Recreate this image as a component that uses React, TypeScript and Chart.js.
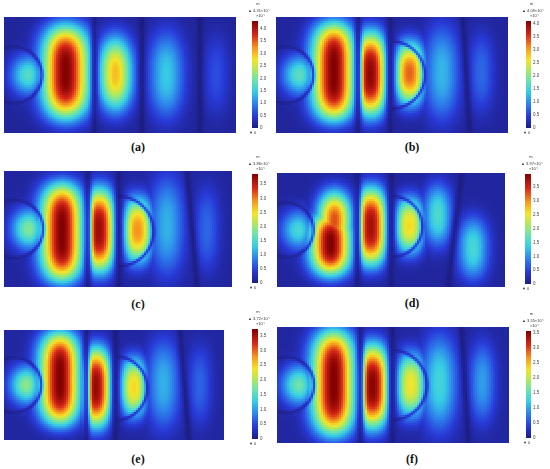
import React, { useEffect, useRef } from 'react';
import { Chart, registerables } from 'chart.js';

Chart.register(...registerables);

// ---------------- data (values in 1e-7 m, positions as fractions of each panel) ----------------
const panelLabels = ['(a)', '(b)', '(c)', '(d)', '(e)', '(f)'];
const maxValues = [4.31, 4.09, 3.86, 3.97, 3.72, 3.55];
const maxLabels = ['4.31', '4.09', '3.86', '3.97', '3.72', '3.55'];
const minLabel = '0';
const tickStep = 0.5;
const backgroundLevel = [0.12, 0.12, 0.12, 0.12, 0.12, 0.12];

// displacement lobes
const lobeU = [
  [0.105, 0.265, 0.48, 0.70, 0.915],
  [0.102, 0.25, 0.405, 0.575, 0.715, 0.885],
  [0.11, 0.255, 0.415, 0.585, 0.715, 0.89],
  [0.095, 0.235, 0.252, 0.41, 0.58, 0.705, 0.86],
  [0.103, 0.255, 0.415, 0.59, 0.725, 0.89],
  [0.096, 0.245, 0.41, 0.576, 0.70, 0.885],
];
const lobeV = [
  [0.50, 0.475, 0.49, 0.50, 0.50],
  [0.50, 0.47, 0.49, 0.485, 0.48, 0.48],
  [0.50, 0.53, 0.51, 0.51, 0.47, 0.50],
  [0.50, 0.62, 0.42, 0.47, 0.46, 0.37, 0.66],
  [0.50, 0.44, 0.52, 0.52, 0.49, 0.50],
  [0.50, 0.48, 0.51, 0.50, 0.48, 0.48],
];
const lobePeak = [
  [1.75, 4.31, 3.0, 1.45, 0.6],
  [1.7, 4.09, 4.0, 3.3, 1.25, 0.75],
  [1.85, 3.86, 3.7, 2.9, 1.15, 0.7],
  [1.5, 3.97, 3.3, 3.75, 2.6, 1.55, 1.5],
  [1.85, 3.72, 3.6, 2.45, 1.1, 0.65],
  [1.6, 3.55, 3.5, 2.25, 1.3, 0.95],
];
const lobeSxLeft = [
  [0.08, 0.10, 0.075, 0.08, 0.06],
  [0.08, 0.095, 0.06, 0.06, 0.08, 0.06],
  [0.08, 0.095, 0.06, 0.06, 0.08, 0.06],
  [0.08, 0.09, 0.075, 0.06, 0.06, 0.065, 0.07],
  [0.08, 0.095, 0.06, 0.06, 0.08, 0.06],
  [0.08, 0.095, 0.06, 0.06, 0.08, 0.06],
];
const lobeSxRight = [
  [0.06, 0.105, 0.075, 0.08, 0.06],
  [0.06, 0.09, 0.07, 0.065, 0.08, 0.06],
  [0.06, 0.09, 0.07, 0.065, 0.08, 0.06],
  [0.06, 0.09, 0.075, 0.07, 0.065, 0.065, 0.07],
  [0.06, 0.09, 0.07, 0.06, 0.08, 0.06],
  [0.06, 0.09, 0.07, 0.065, 0.08, 0.06],
];
const lobeSy = [
  [0.18, 0.40, 0.32, 0.38, 0.36],
  [0.18, 0.42, 0.36, 0.27, 0.42, 0.36],
  [0.18, 0.42, 0.36, 0.28, 0.44, 0.38],
  [0.18, 0.28, 0.26, 0.34, 0.25, 0.28, 0.28],
  [0.18, 0.42, 0.36, 0.27, 0.42, 0.38],
  [0.18, 0.45, 0.36, 0.28, 0.42, 0.36],
];
const lobeNx = [
  [2, 2, 2, 2, 2],
  [2, 2, 2.5, 2.5, 2, 2],
  [2, 2, 2.5, 2.5, 2, 2],
  [2, 2, 2, 2.5, 2.5, 2, 2],
  [2, 2, 2.5, 2.5, 2, 2],
  [2, 2, 2.5, 2.5, 2, 2],
];
const lobeNy = [
  [2, 3.5, 2.5, 2.5, 2.5],
  [2, 4, 3, 2.5, 2.5, 2.5],
  [2, 4, 3, 2.5, 2.5, 2.5],
  [2, 3, 2.5, 3, 2.5, 2.5, 2.5],
  [2, 4, 3, 2.5, 2.5, 2.5],
  [2, 4, 3, 2.5, 2.5, 2.5],
];

// straight nodal lines (u at mid-height, and drift per unit height)
const nodeU = [
  [0.39, 0.595, 0.845],
  [0.354, 0.492, 0.82],
  [0.368, 0.503, 0.825],
  [0.353, 0.50, 0.78],
  [0.374, 0.506, 0.82],
  [0.36, 0.496, 0.81],
];
const nodeTilt = [
  [0, 0, 0],
  [0, 0, 0.03],
  [0, 0, 0.045],
  [0, 0, -0.06],
  [0, 0, 0.04],
  [0, 0, 0.03],
];

// curved nodal arcs (centre u, centre v, radius as fraction of panel height)
const arcU = [[0.042], [0.04, 0.497], [0.045, 0.503], [0.04, 0.505], [0.045, 0.506], [0.04, 0.496]];
const arcV = [[0.5], [0.5, 0.5], [0.5, 0.52], [0.5, 0.47], [0.5, 0.53], [0.5, 0.5]];
const arcR = [[0.243], [0.243, 0.29], [0.25, 0.30], [0.24, 0.265], [0.25, 0.29], [0.24, 0.30]];
const arcRightOnly = [[false], [false, true], [false, true], [false, true], [false, true], [false, true]];

// ---------------- layout & style ----------------
const PANEL_BOXES = [
  { x: 4, y: 17, w: 232, h: 116 },
  { x: 276, y: 17, w: 232, h: 116 },
  { x: 4, y: 171, w: 228, h: 116 },
  { x: 277, y: 173, w: 228, h: 114 },
  { x: 4, y: 330, w: 220, h: 110 },
  { x: 277, y: 327, w: 232, h: 116 },
];
const BAR_BOXES = [
  { x: 252, y: 21, w: 6, h: 107 },
  { x: 526, y: 21, w: 5, h: 107 },
  { x: 252, y: 174, w: 6, h: 109 },
  { x: 525, y: 174, w: 6, h: 110 },
  { x: 252, y: 329, w: 6, h: 110 },
  { x: 526, y: 331, w: 5, h: 107 },
];
const LABEL_POS = [
  { x: 138, y: 147 },
  { x: 412, y: 147 },
  { x: 138, y: 304 },
  { x: 412, y: 303 },
  { x: 138, y: 459 },
  { x: 412, y: 459 },
];

const CMAP_POS = [0, 0.03, 0.11, 0.22, 0.34, 0.45, 0.55, 0.64, 0.75, 0.87, 1];
const CMAP_RGB = [
  [28, 28, 125], [33, 38, 158], [40, 58, 215], [45, 125, 235], [55, 205, 230],
  [110, 228, 170], [180, 232, 90], [245, 228, 40], [245, 150, 30], [215, 40, 25], [128, 0, 0],
];
const SANS = '"Liberation Sans", Arial, sans-serif';
const NODE_DEPTH = 0.85;
const NODE_WIDTH = 3.5;
const ARC_DEPTH = 0.7;
const ARC_WIDTH = 1.8;
const CELL = 2; // pixels per heat-map cell (panel sizes are multiples of it)

function colorAt(t: number): string {
  const x = Math.max(0, Math.min(1, t));
  for (let k = 1; k < CMAP_POS.length; k++) {
    if (x <= CMAP_POS[k]) {
      const f = (x - CMAP_POS[k - 1]) / (CMAP_POS[k] - CMAP_POS[k - 1]);
      const a = CMAP_RGB[k - 1];
      const b = CMAP_RGB[k];
      return `rgb(${Math.round(a[0] + (b[0] - a[0]) * f)},${Math.round(a[1] + (b[1] - a[1]) * f)},${Math.round(a[2] + (b[2] - a[2]) * f)})`;
    }
  }
  const c = CMAP_RGB[CMAP_RGB.length - 1];
  return `rgb(${c[0]},${c[1]},${c[2]})`;
}

function fieldValue(p: number, u: number, v: number, W: number, H: number): number {
  let m = 0;
  for (let i = 0; i < lobeU[p].length; i++) {
    const du = u - lobeU[p][i];
    const sx = du < 0 ? lobeSxLeft[p][i] : lobeSxRight[p][i];
    const dv = v - lobeV[p][i];
    const e = Math.pow(Math.abs(du) / sx, lobeNx[p][i]) + Math.pow(Math.abs(dv) / lobeSy[p][i], lobeNy[p][i]);
    m = Math.max(m, lobePeak[p][i] * Math.exp(-e));
  }
  let val = Math.hypot(backgroundLevel[p], m);
  for (let j = 0; j < nodeU[p].length; j++) {
    const x0 = nodeU[p][j] + nodeTilt[p][j] * (v - 0.5);
    const d = (u - x0) * W;
    val *= 1 - NODE_DEPTH * Math.exp(-(d * d) / (NODE_WIDTH * NODE_WIDTH));
  }
  for (let j = 0; j < arcU[p].length; j++) {
    if (arcRightOnly[p][j] && u < arcU[p][j]) continue;
    const dx = (u - arcU[p][j]) * W;
    const dy = (v - arcV[p][j]) * H;
    const d = Math.hypot(dx, dy) - arcR[p][j] * H;
    val *= 1 - ARC_DEPTH * Math.exp(-(d * d) / (ARC_WIDTH * ARC_WIDTH));
  }
  return val;
}

function HeatPanel({ p }: { p: number }) {
  const ref = useRef<HTMLCanvasElement | null>(null);
  const box = PANEL_BOXES[p];
  const W = box.w;
  const H = box.h;
  useEffect(() => {
    const nx = W / CELL;
    const ny = H / CELL;
    const pts: { x: number; y: number }[] = [];
    const cols: string[] = [];
    for (let j = 0; j < ny; j++) {
      for (let i = 0; i < nx; i++) {
        const u = (i + 0.5) / nx;
        const v = (j + 0.5) / ny;
        pts.push({ x: u, y: v });
        cols.push(colorAt(fieldValue(p, u, v, W, H) / maxValues[p]));
      }
    }
    // 'rect' point side = sqrt(2) * radius -> one cell plus a hair of overlap
    const r = (CELL / 2) * Math.SQRT2 * 1.02;
    const chart = new Chart(ref.current as HTMLCanvasElement, {
      type: 'scatter',
      data: {
        datasets: [
          {
            data: pts,
            backgroundColor: cols,
            pointBackgroundColor: cols,
            borderWidth: 0,
            pointBorderWidth: 0,
            pointStyle: 'rect',
            pointRadius: r,
            pointHoverRadius: r,
            clip: 0,
          } as any,
        ],
      },
      options: {
        animation: false,
        responsive: false,
        devicePixelRatio: 1,
        events: [],
        parsing: false,
        normalized: true,
        layout: { padding: 0, autoPadding: false },
        elements: { point: { borderWidth: 0 } },
        plugins: { legend: { display: false }, tooltip: { enabled: false } },
        scales: {
          x: { type: 'linear', min: 0, max: 1, display: false },
          y: { type: 'linear', min: 0, max: 1, reverse: true, display: false },
        },
      } as any,
    });
    return () => chart.destroy();
  }, [p]);
  return (
    <canvas
      ref={ref}
      width={W}
      height={H}
      style={{ position: 'absolute', left: box.x, top: box.y, width: W, height: H }}
    />
  );
}

const PAD_L = 8;
const PAD_T = 22;
const PAD_B = 10;
const AXIS_W = 16;

function ColorBar({ p }: { p: number }) {
  const ref = useRef<HTMLCanvasElement | null>(null);
  const box = BAR_BOXES[p];
  const W = box.w + PAD_L + AXIS_W;
  const H = box.h + PAD_T + PAD_B;
  useEffect(() => {
    const labelPlugin = {
      id: 'barLabels',
      afterDraw(chart: any) {
        const c = chart.ctx;
        const a = chart.chartArea;
        c.save();
        c.fillStyle = '#333';
        c.textBaseline = 'middle';
        c.font = `4px ${SANS}`;
        c.textAlign = 'center';
        c.fillText('m', (a.left + a.right) / 2 + 3, a.top - 17);
        c.textAlign = 'left';
        c.fillText('\u25B2 ' + maxLabels[p] + '\u00D710\u207B\u2077', a.left - 4, a.top - 10.5);
        c.fillText('\u00D710\u207B\u2077', a.left + 4, a.top - 5.5);
        c.fillText('\u25BC ' + minLabel, a.left - 3, a.bottom + 5);
        c.restore();
      },
    };
    const chart = new Chart(ref.current as HTMLCanvasElement, {
      type: 'bar',
      data: {
        labels: [''],
        datasets: [
          {
            data: [maxValues[p]],
            borderWidth: 0,
            barPercentage: 1,
            categoryPercentage: 1,
            backgroundColor: (ctx: any) => {
              const area = ctx.chart.chartArea;
              if (!area) return 'rgb(28,28,125)';
              const g = ctx.chart.ctx.createLinearGradient(0, area.bottom, 0, area.top);
              CMAP_POS.forEach((pos, k) => {
                const c = CMAP_RGB[k];
                g.addColorStop(pos, `rgb(${c[0]},${c[1]},${c[2]})`);
              });
              return g;
            },
          },
        ],
      },
      options: {
        animation: false,
        responsive: false,
        events: [],
        layout: { padding: { top: PAD_T, bottom: PAD_B, left: PAD_L, right: 0 } },
        plugins: { legend: { display: false }, tooltip: { enabled: false } },
        scales: {
          x: { display: false },
          y: {
            position: 'right',
            min: 0,
            max: maxValues[p],
            grid: { display: false, drawTicks: false },
            border: { display: false },
            ticks: {
              stepSize: tickStep,
              includeBounds: false,
              padding: 2,
              color: '#444',
              font: { size: 4.5, family: SANS },
            },
            afterFit: (s: any) => {
              s.width = AXIS_W;
            },
          },
        },
      } as any,
      plugins: [labelPlugin],
    });
    return () => chart.destroy();
  }, [p]);
  return (
    <canvas
      ref={ref}
      width={W}
      height={H}
      style={{ position: 'absolute', left: box.x - PAD_L, top: box.y - PAD_T, width: W, height: H }}
    />
  );
}

export default function App() {
  return (
    <div
      style={{
        position: 'absolute',
        left: 0,
        top: 0,
        width: 550,
        height: 469,
        background: '#ffffff',
        overflow: 'hidden',
      }}
    >
      {panelLabels.map((lab, p) => (
        <React.Fragment key={lab}>
          <HeatPanel p={p} />
          <ColorBar p={p} />
          <div
            style={{
              position: 'absolute',
              left: LABEL_POS[p].x - 20,
              top: LABEL_POS[p].y - 8,
              width: 40,
              textAlign: 'center',
              font: 'bold 12px "Liberation Serif", "Times New Roman", serif',
              color: '#111',
              lineHeight: '16px',
            }}
          >
            {lab}
          </div>
        </React.Fragment>
      ))}
    </div>
  );
}
